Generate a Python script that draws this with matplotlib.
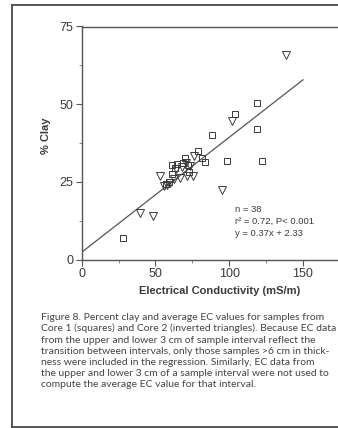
import numpy as np
import matplotlib
matplotlib.use("Agg")
import matplotlib.pyplot as plt
from matplotlib.lines import Line2D
from matplotlib.ticker import MultipleLocator, FixedLocator

# Core 1 samples (squares): average EC (mS/m), percent clay
core1_ec = [28.2, 118.6, 103.9, 118.6, 88.5, 98.7, 122.4, 79.1, 81.8, 83.6,
            69.8, 61.3, 64.9, 68.5, 72.3, 61.3, 72.8, 57.0, 59.3, 63.3]
core1_clay = [6.9, 50.4, 46.8, 42.1, 40.1, 31.7, 31.7, 34.8, 32.6, 31.4,
              32.6, 30.4, 30.7, 31.2, 30.4, 27.6, 28.2, 24.2, 25.0, 29.4]

# Core 2 samples (inverted triangles)
core2_ec = [138.2, 102.1, 53.1, 39.5, 48.6, 94.9, 75.7, 76.1, 66.6,
            64.0, 62.5, 60.0, 58.0, 70.5, 73.5, 67.8, 71.6, 56.0]
core2_clay = [65.9, 44.7, 27.0, 15.0, 14.1, 22.4, 27.0, 33.3, 26.3,
              29.0, 25.8, 24.6, 24.0, 31.2, 30.0, 29.9, 26.9, 23.8]

# regression fit
slope, intercept = 0.37, 2.33
fit_x = [0, 150]

x_ticks = [0, 50, 100, 150]
y_ticks = [0, 25, 50, 75]

caption = ("Figure 8. Percent clay and average EC values for samples from\n"
           "Core 1 (squares) and Core 2 (inverted triangles). Because EC data\n"
           "from the upper and lower 3 cm of sample interval reflect the\n"
           "transition between intervals, only those samples >6 cm in thick-\n"
           "ness were included in the regression. Similarly, EC data from\n"
           "the upper and lower 3 cm of a sample interval were not used to\n"
           "compute the average EC value for that interval.")

ink = "#3a3a3a"
plt.rcParams['font.family'] = ['Liberation Sans', 'DejaVu Sans']

W, H = 338, 428
fig = plt.figure(figsize=(W / 100, H / 100), dpi=100)
fig.patch.set_facecolor("white")

# page frame
frame = dict(color="#555555", lw=1.4, transform=fig.transFigure, clip_on=False)
fig.add_artist(Line2D([11.5 / W, 11.5 / W], [1 - 4.5 / H, 1 - 426.5 / H], **frame))
fig.add_artist(Line2D([11.5 / W, 1.0], [1 - 4.5 / H, 1 - 4.5 / H], **frame))
fig.add_artist(Line2D([11.5 / W, 1.0], [1 - 426.5 / H, 1 - 426.5 / H], **frame))

left, bottom, top = 81.7 / W, 1 - 259.5 / H, 1 - 26.5 / H
ax = fig.add_axes([left, bottom, 295 / W, top - bottom])
ax.set_xlim(0, 200)
ax.set_ylim(0, 75)

ax.plot(fit_x, [slope * x + intercept for x in fit_x], color="#555555", lw=0.9)
ax.plot(core1_ec, core1_clay, ls="none", marker="s", ms=4.3, mfc="none",
        mec=ink, mew=0.7)
ax.plot(core2_ec, core2_clay, ls="none", marker="v", ms=5.2, mfc="none",
        mec=ink, mew=0.7)

for s in ["top", "left", "bottom"]:
    ax.spines[s].set_color("#555555")
    ax.spines[s].set_linewidth(1.0)
ax.spines["right"].set_visible(False)

ax.xaxis.set_major_locator(FixedLocator(x_ticks))
ax.xaxis.set_minor_locator(FixedLocator([25, 75, 125]))
ax.yaxis.set_major_locator(FixedLocator(y_ticks))
ax.yaxis.set_minor_locator(MultipleLocator(12.5))
ax.tick_params(which="major", direction="out", length=4, width=0.8,
               color="#555555", labelsize=9, labelcolor=ink, pad=2)
ax.tick_params(which="minor", direction="out", length=2, width=0.6,
               color="#777777")
ax.tick_params(top=False, right=False)

ax.set_xlabel("Electrical Conductivity (mS/m)", fontsize=8, fontweight="bold",
              color=ink, labelpad=3)
ax.xaxis.set_label_coords((220 - 81.7) / 295, -0.115)
ax.set_ylabel("% Clay", fontsize=8, fontweight="bold", color=ink)
ax.yaxis.set_label_coords(-0.105, 0.53)

ax.text(104, 17.5, "n = 38\nr\u00b2 = 0.72, P< 0.001\ny = 0.37x + 2.33",
        fontsize=6.8, color=ink, va="top", ha="left", linespacing=1.45)

fig.text(41 / W, 1 - 312.5 / H, caption, fontsize=7.5, color="#444444",
         fontfamily=['Lato', 'DejaVu Sans'], va="top", ha="left",
         linespacing=1.31)

fig.savefig("out.png", dpi=100)
